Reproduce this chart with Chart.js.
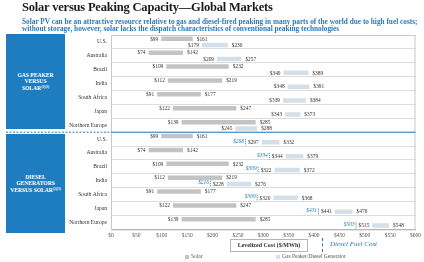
<!DOCTYPE html>
<html>
<head>
<meta charset="utf-8">
<script src="https://cdn.jsdelivr.net/npm/chart.js@4.4.1/dist/chart.umd.min.js"></script>
<style>
  body { margin: 0; background: #fff; font-family: "Liberation Serif", serif; }
  #wrap { position: relative; width: 424px; height: 262px; overflow: hidden; }
  canvas { position: absolute; left: 0; top: 0; }
  #title { position: absolute; left: 22px; top: 0px; font-size: 12.5px; letter-spacing: -0.2px; font-weight: bold; color: #1a1a1a; white-space: nowrap; }
  #sub { position: absolute; left: 22px; top: 17.5px; font-size: 7.3px; line-height: 7.6px; font-weight: bold; color: #2a7ab8; white-space: nowrap; }
  .box { position: absolute; left: 6px; width: 59px; background: #1d7dc0; color: #fff; font-weight: bold;
         font-size: 5.6px; line-height: 6.6px; text-align: center; display: flex; align-items: center; justify-content: center; }
  .box sup { font-size: 3.4px; line-height: 0; vertical-align: 2px; }
  #lcost { position: absolute; left: 230px; top: 239px; width: 76px; height: 11px; border: 1px solid #b5b5b5;
           font-size: 6px; line-height: 11px; text-align: center; color: #333; font-weight: bold; }
  #fuelKey { position: absolute; left: 322px; top: 238px; height: 14px; border-left: 1px dashed #2a7ab8; }
  #fuelTxt { position: absolute; left: 330px; top: 240px; font-size: 7px; font-style: italic; color: #2a7ab8; white-space: nowrap; }
  .lg { position: absolute; top: 253px; font-size: 5.5px; color: #555; white-space: nowrap; }
  .sw { display: inline-block; width: 4px; height: 4px; margin-right: 2px; vertical-align: -0.5px; }
</style>
</head>
<body>
<div id="wrap">
  <canvas id="chart" width="424" height="262"></canvas>
  <div id="title">Solar versus Peaking Capacity—Global Markets</div>
  <div id="sub">Solar PV can be an attractive resource relative to gas and diesel-fired peaking in many parts of the world due to high fuel costs;<br>without storage, however, solar lacks the dispatch characteristics of conventional peaking technologies</div>
  <div class="box" style="top:34px;height:95px;"><div>GAS PEAKER<br>VERSUS<br>SOLAR<sup>(1)(3)</sup></div></div>
  <div class="box" style="top:134px;height:99px;"><div>DIESEL<br>GENERATORS<br>VERSUS SOLAR<sup>(2)(3)</sup></div></div>
  <div id="lcost">Levelized Cost ($/MWh)</div>
  <div id="fuelKey"></div>
  <div id="fuelTxt">Diesel Fuel Cost</div>
  <div class="lg" style="left:185px;"><span class="sw" style="background:#c3c3c3"></span>Solar</div>
  <div class="lg" style="left:276px;"><span class="sw" style="background:#d3dfe9"></span>Gas Peaker/Diesel Generator</div>
</div>
<script>
// categories: first 7 = gas peaker vs solar, last 7 = diesel generators vs solar
const categories = ['U.S.', 'Australia', 'Brazil', 'India', 'South Africa', 'Japan', 'Northern Europe',
                    'U.S.', 'Australia', 'Brazil', 'India', 'South Africa', 'Japan', 'Northern Europe'];

const solarLow  = [99, 74, 109, 112, 91, 122, 139,   99, 74, 109, 112, 91, 122, 139];
const solarHigh = [161, 142, 232, 219, 177, 247, 285, 161, 142, 232, 219, 177, 247, 285];
const peakLow   = [179, 209, 340, 348, 339, 343, 245, 297, 344, 322, 228, 320, 441, 515];
const peakHigh  = [230, 257, 389, 391, 384, 373, 288, 332, 379, 372, 276, 368, 476, 548];
const fuelCost  = [null, null, null, null, null, null, null, 268, 334, 309, 216, 309, 431, 503];

const xMin = 0, xMax = 600, xStep = 50;

const BLUE = '#2a7ab8';
const SERIF = '"Liberation Serif", serif';

// $ labels at both ends of every bar, plus the diesel fuel cost markers
const labelPlugin = {
  id: 'barLabels',
  afterDatasetsDraw(chart) {
    const ctx = chart.ctx;
    const xs = chart.scales.x;
    ctx.save();
    ctx.textBaseline = 'middle';
    const lowLeft = [];
    [[solarLow, solarHigh], [peakLow, peakHigh]].forEach((pair, di) => {
      chart.getDatasetMeta(di).data.forEach((bar, i) => {
        const p = bar.getProps(['x', 'y', 'base'], true);
        const left = Math.min(p.x, p.base), right = Math.max(p.x, p.base);
        ctx.font = '5.4px ' + SERIF;
        ctx.fillStyle = '#333';
        const lo = '$' + pair[0][i];
        ctx.textAlign = 'right';
        ctx.fillText(lo, left - 3, p.y + 0.3);
        ctx.textAlign = 'left';
        ctx.fillText('$' + pair[1][i], right + 4, p.y + 0.3);
        if (di === 1) lowLeft[i] = left - 3 - ctx.measureText(lo).width;
      });
    });
    // fuel cost markers, kept just left of the low label
    const peakMeta = chart.getDatasetMeta(1);
    fuelCost.forEach((v, i) => {
      if (v == null) return;
      const y = peakMeta.data[i].getProps(['y'], true).y;
      const x = Math.min(xs.getPixelForValue(v), lowLeft[i] - 2.5);
      ctx.strokeStyle = BLUE;
      ctx.lineWidth = 0.8;
      ctx.setLineDash([1.2, 0.8]);
      ctx.beginPath();
      ctx.moveTo(x, y - 3.2);
      ctx.lineTo(x, y + 3.2);
      ctx.stroke();
      ctx.setLineDash([]);
      ctx.font = 'italic 5.4px ' + SERIF;
      ctx.fillStyle = BLUE;
      ctx.textAlign = 'right';
      ctx.fillText('$' + v, x - 1.5, y - 1);
    });
    ctx.restore();
  },
  afterDraw(chart) {
    const ctx = chart.ctx;
    const a = chart.chartArea;
    const ys = chart.scales.y;
    ctx.save();
    ctx.strokeStyle = '#c8c8c8';
    ctx.lineWidth = 1;
    ctx.strokeRect(a.left + 0.5, a.top + 0.5, a.right - a.left - 1, a.bottom - a.top);
    // section divider, solid inside the plot, dashed to the left
    const yd = (ys.getPixelForValue(6) + ys.getPixelForValue(7)) / 2;
    ctx.strokeStyle = BLUE;
    ctx.lineWidth = 1;
    ctx.beginPath();
    ctx.moveTo(a.left, yd);
    ctx.lineTo(a.right, yd);
    ctx.stroke();
    ctx.setLineDash([2, 1.5]);
    ctx.beginPath();
    ctx.moveTo(6, yd);
    ctx.lineTo(a.left, yd);
    ctx.stroke();
    ctx.restore();
  }
};

new Chart(document.getElementById('chart'), {
  type: 'bar',
  data: {
    labels: categories,
    datasets: [{
      label: 'Solar',
      data: solarLow.map((v, i) => [v, solarHigh[i]]),
      backgroundColor: '#c3c3c3',
      categoryPercentage: 0.9,
      barPercentage: 0.72
    }, {
      label: 'Gas Peaker/Diesel Generator',
      data: peakLow.map((v, i) => [v, peakHigh[i]]),
      backgroundColor: '#d3dfe9',
      categoryPercentage: 0.9,
      barPercentage: 0.72
    }]
  },
  options: {
    indexAxis: 'y',
    responsive: false,
    animation: false,
    layout: { padding: { left: 0, right: 6, top: 35, bottom: 20 } },
    plugins: { legend: { display: false }, tooltip: { enabled: false } },
    scales: {
      x: {
        min: xMin,
        max: xMax,
        grid: { display: false, drawTicks: false },
        border: { color: '#9a9a9a' },
        ticks: {
          stepSize: xStep,
          padding: 3,
          color: '#555',
          font: { family: SERIF, size: 5.5 },
          callback: v => '$' + v,
          autoSkip: false,
          maxRotation: 0
        }
      },
      y: {
        afterFit: s => { s.width = 111; },
        grid: {
          drawTicks: false,
          color: '#dcdcdc',
          lineWidth: 1
        },
        border: { color: '#9a9a9a' },
        ticks: {
          padding: 4,
          color: '#333',
          font: { family: SERIF, size: 5.6 },
          autoSkip: false
        }
      }
    }
  },
  plugins: [labelPlugin]
});
</script>
</body>
</html>
